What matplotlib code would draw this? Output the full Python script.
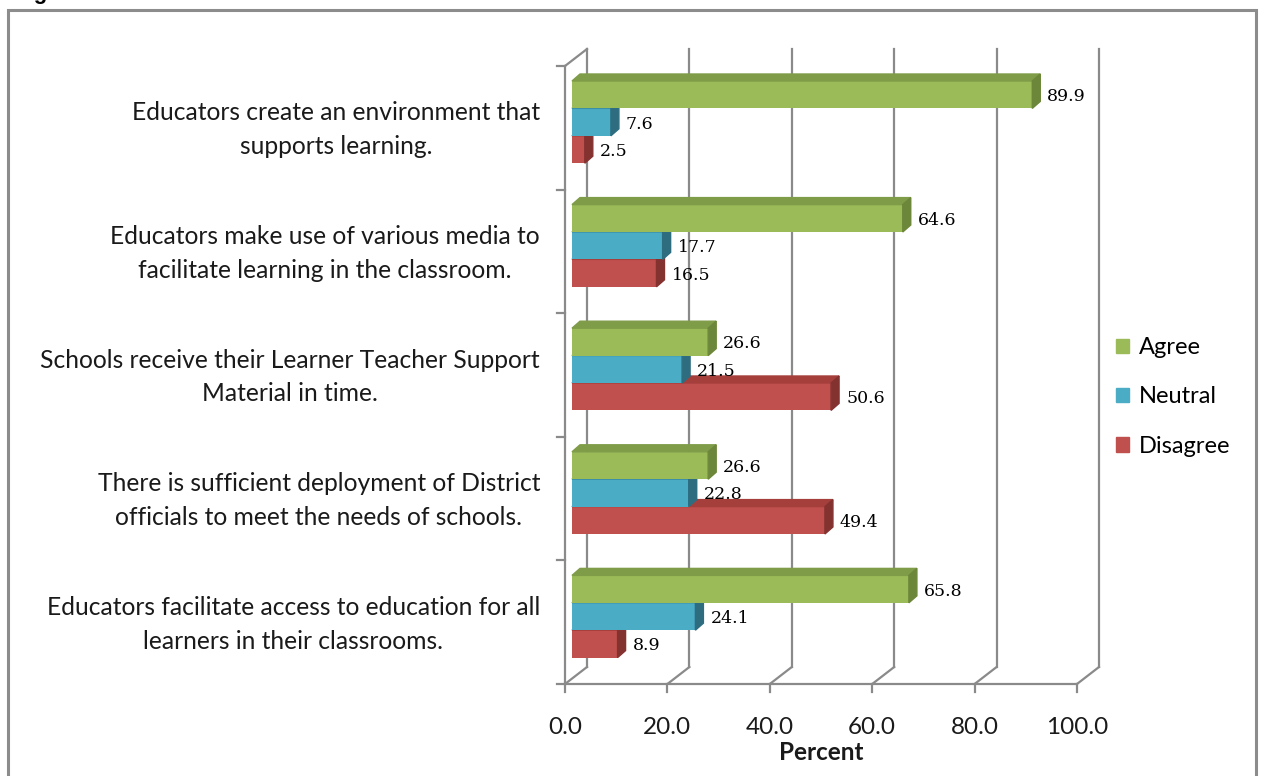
import numpy as np
import matplotlib.pyplot as plt
from matplotlib.patches import Polygon, Rectangle, Patch

plt.rc("font", family=["Lato", "DejaVu Sans"])

questions = [
    "Educators create an environment that\nsupports learning.",
    "Educators make use of various media to\nfacilitate learning in the classroom.",
    "Schools receive their Learner Teacher Support\nMaterial in time.",
    "There is sufficient deployment of District\nofficials to meet the needs of schools.",
    "Educators facilitate access to education for all\nlearners in their classrooms.",
]
series = ["Agree", "Neutral", "Disagree"]
agree = [89.9, 64.6, 26.6, 26.6, 65.8]
neutral = [7.6, 17.7, 21.5, 22.8, 24.1]
disagree = [2.5, 16.5, 50.6, 49.4, 8.9]
xticks = [0, 20, 40, 60, 80, 100]

values = [agree, neutral, disagree]
# front, top and end face colours of each series
faces = [("#9bbb59", "#7f9c48", "#6c8739"),
         ("#4bacc6", "#3a8ea6", "#2e6d80"),
         ("#c0504d", "#a53f3c", "#843230")]
grid = "#8a8a8a"
ink = "#1a1a1a"

W, H = 1264, 776
fig = plt.figure(figsize=(W / 100, H / 100), dpi=100)

# front plane of the plot box, in pixels
X0, X1 = 565, 1077
Y0, Y1 = 66, 684
ax = fig.add_axes([X0 / W, 1 - Y1 / H, (X1 - X0) / W, (Y1 - Y0) / H])
ax.set_xlim(0, 100)
ax.set_ylim(5, 0)
ax.axis("off")

px = 100 / (X1 - X0)
py = 5 / (Y1 - Y0)

# back wall / floor offset and bar depth
bx, by = 22 * px, -17 * py
dx, dy = 8 * px, -7 * py
fx = 7 * px
a = 15 / 123.6
h = 27.4 / 123.6

lw = 1.6
for v in xticks:
    ax.plot([v + bx, v + bx], [by, 5 + by], color=grid, lw=lw, clip_on=False, zorder=1)
    ax.plot([v, v + bx], [5, 5 + by], color=grid, lw=lw, clip_on=False, zorder=1)
    ax.plot([v, v], [5, 5 + 8 * py], color=grid, lw=lw, clip_on=False, zorder=1)
    ax.text(v, 5 + 43 * py, "%.1f" % v, ha="center", va="center", fontsize=17.5,
            color=ink)
ax.plot([0, 100], [5, 5], color=grid, lw=lw, clip_on=False, zorder=1)
ax.plot([0, 0], [0, 5], color=grid, lw=lw, clip_on=False, zorder=1)
ax.plot([0, bx], [0, by], color=grid, lw=lw, clip_on=False, zorder=1)
for k in range(6):
    ax.plot([-8 * px, 0], [k, k], color=grid, lw=lw, clip_on=False, zorder=1)
ax.text(50, 5 + 68 * py, "Percent", ha="center", va="center", fontsize=17.5,
        fontweight="bold", color=ink)

# bars, drawn from the bottom up so upper bars cover the tops below them
for i in range(len(questions) - 1, -1, -1):
    for j in range(len(series) - 1, -1, -1):
        v = values[j][i]
        front, top, side = faces[j]
        yt = i + a + j * h
        ax.barh(yt + h / 2, v, height=h, left=fx, color=front, zorder=3)
        ax.add_patch(Polygon([(fx, yt), (fx + v, yt), (fx + v + dx, yt + dy),
                              (fx + dx, yt + dy)], closed=True, color=top, zorder=3))
        ax.add_patch(Polygon([(fx + v, yt), (fx + v + dx, yt + dy),
                              (fx + v + dx, yt + h + dy), (fx + v, yt + h)],
                             closed=True, color=side, zorder=3))
        ax.text(fx + v + 15 * px, yt + h / 2 + 2 * py, "%.1f" % v, ha="left",
                va="center", fontsize=12.5, family="DejaVu Serif", color="#000000",
                zorder=5)
    ax.text(-25 * px, i + 0.5 + 2 * py, questions[i], ha="right", va="center",
            multialignment="center", fontsize=17.7, linespacing=1.56, color=ink)

handles = [Patch(color=faces[j][0]) for j in range(3)]
ax.legend(handles, series, loc="center left", bbox_to_anchor=(1095 / W, 1 - 397 / H),
          bbox_transform=fig.transFigure, frameon=False, fontsize=17,
          handlelength=0.55, handleheight=0.55, handletextpad=0.4, labelspacing=1.2)

# outer frame and the clipped caption above it
fig.add_artist(Rectangle((8 / W, -0.05), (1256 - 8) / W, 1.05 - 10 / H,
                         transform=fig.transFigure, fill=False, ec="#8c8c8c", lw=2.2))
fig.text(14 / W, 1 + 1.5 / H, "Figure", fontsize=16, fontweight="bold",
         family="Liberation Sans", va="baseline")

plt.savefig("out.png", dpi=100)
